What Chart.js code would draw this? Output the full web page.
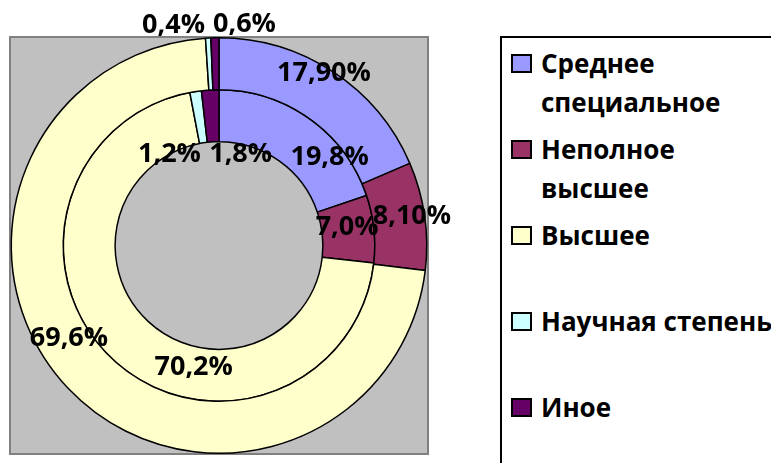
<!DOCTYPE html>
<html>
<head>
<meta charset="utf-8">
<script src="https://cdn.jsdelivr.net/npm/chart.js@4.4.1/dist/chart.umd.min.js"></script>
<style>
    html, body {
        margin: 0;
        padding: 0;
        background: #fff;
        width: 771px;
        height: 463px;
        overflow: hidden;
        position: relative;
    }
    #chartDonut { position: absolute; left: 0; top: 0; }
    #legendBox {
        position: absolute;
        left: 500px;
        top: 36px;
        width: 330px;
        height: 470px;
        border: 2px solid #000;
        box-sizing: border-box;
        background: #fff;
    }
    .leg-item {
        position: absolute;
        left: 9px;
        height: 86px;
        display: flex;
        align-items: flex-start;
    }
    .leg-sw {
        width: 21px;
        height: 19px;
        border: 2px solid #000;
        box-sizing: border-box;
        margin-top: 10px;
        flex: none;
    }
    .leg-txt {
        margin-left: 9px;
        font: bold 26px "Open Sans", sans-serif;
        line-height: 39px;
        white-space: nowrap;
        color: #000;
    }
</style>
</head>
<body>
<canvas id="chartDonut" width="500" height="463"></canvas>
<div id="legendBox"></div>

<script>
// ===== data
const categories = [
    ["Среднее", "специальное"],
    ["Неполное", "высшее"],
    "Высшее",
    "Научная степень",
    "Иное",
];
const outerValues = [17.9, 8.1, 69.6, 0.4, 0.6];   // внешнее кольцо
const innerValues = [19.8, 7.0, 70.2, 1.2, 1.8];   // внутреннее кольцо
const outerDecimals = [2, 2, 1, 1, 1];
const innerDecimals = [1, 1, 1, 1, 1];

const colors = ["#9999FF", "#993366", "#FFFFCC", "#CCFFFF", "#660066"];

// сдвиг подписей от центра сегмента (как в Excel)
const outerNudge = [[5, -20], [13, -3], [-18, -32], [-36, -39], [29, -39]];
const innerNudge = [[35, 17], [-1, -4], [63, 27], [-30, 37], [29, 38]];

const fmt = (v, d) => v.toFixed(d).replace(".", ",") + "%";

// ===== gray plot area
const plotBg = {
    id: "plotBg",
    beforeDraw(chart) {
        const { ctx, chartArea: a } = chart;
        ctx.save();
        ctx.fillStyle = "#C0C0C0";
        ctx.fillRect(a.left, a.top, a.width, a.height);
        ctx.strokeStyle = "#808080";
        ctx.lineWidth = 2;
        ctx.strokeRect(a.left, a.top, a.width, a.height);
        ctx.restore();
    },
};

// ===== value labels
const ringLabels = {
    id: "ringLabels",
    afterDatasetsDraw(chart) {
        const ctx = chart.ctx;
        ctx.save();
        ctx.font = 'bold 27px "Open Sans", sans-serif';
        ctx.fillStyle = "#000";
        ctx.textAlign = "center";
        ctx.textBaseline = "middle";
        chart.data.datasets.forEach((ds, di) => {
            const meta = chart.getDatasetMeta(di);
            meta.data.forEach((arc, i) => {
                const p = arc.tooltipPosition();
                const n = ds.nudge[i];
                ctx.fillText(fmt(ds.data[i], ds.decimals[i]), p.x + n[0], p.y + n[1]);
            });
        });
        ctx.restore();
    },
};

// ===== html legend
const htmlLegend = {
    id: "htmlLegend",
    afterUpdate(chart) {
        const box = document.getElementById("legendBox");
        box.innerHTML = "";
        chart.data.labels.forEach((lbl, i) => {
            const item = document.createElement("div");
            item.className = "leg-item";
            item.style.top = 6 + i * 86 + "px";
            const sw = document.createElement("div");
            sw.className = "leg-sw";
            sw.style.background = colors[i];
            const txt = document.createElement("div");
            txt.className = "leg-txt";
            txt.innerHTML = (Array.isArray(lbl) ? lbl : [lbl]).join("<br>");
            item.appendChild(sw);
            item.appendChild(txt);
            box.appendChild(item);
        });
    },
};

new Chart(document.getElementById("chartDonut"), {
    type: "doughnut",
    data: {
        labels: categories,
        datasets: [
            {
                data: outerValues,
                decimals: outerDecimals,
                nudge: outerNudge,
                backgroundColor: colors,
                borderColor: "#000",
                borderWidth: 1.5,
            },
            {
                data: innerValues,
                decimals: innerDecimals,
                nudge: innerNudge,
                backgroundColor: colors,
                borderColor: "#000",
                borderWidth: 1.5,
            },
        ],
    },
    options: {
        responsive: false,
        animation: false,
        cutout: "50%",
        layout: { padding: { left: 10, top: 37, right: 72, bottom: 9 } },
        plugins: {
            legend: { display: false },
            tooltip: { enabled: false },
        },
    },
    plugins: [plotBg, ringLabels, htmlLegend],
});
</script>
</body>
</html>
